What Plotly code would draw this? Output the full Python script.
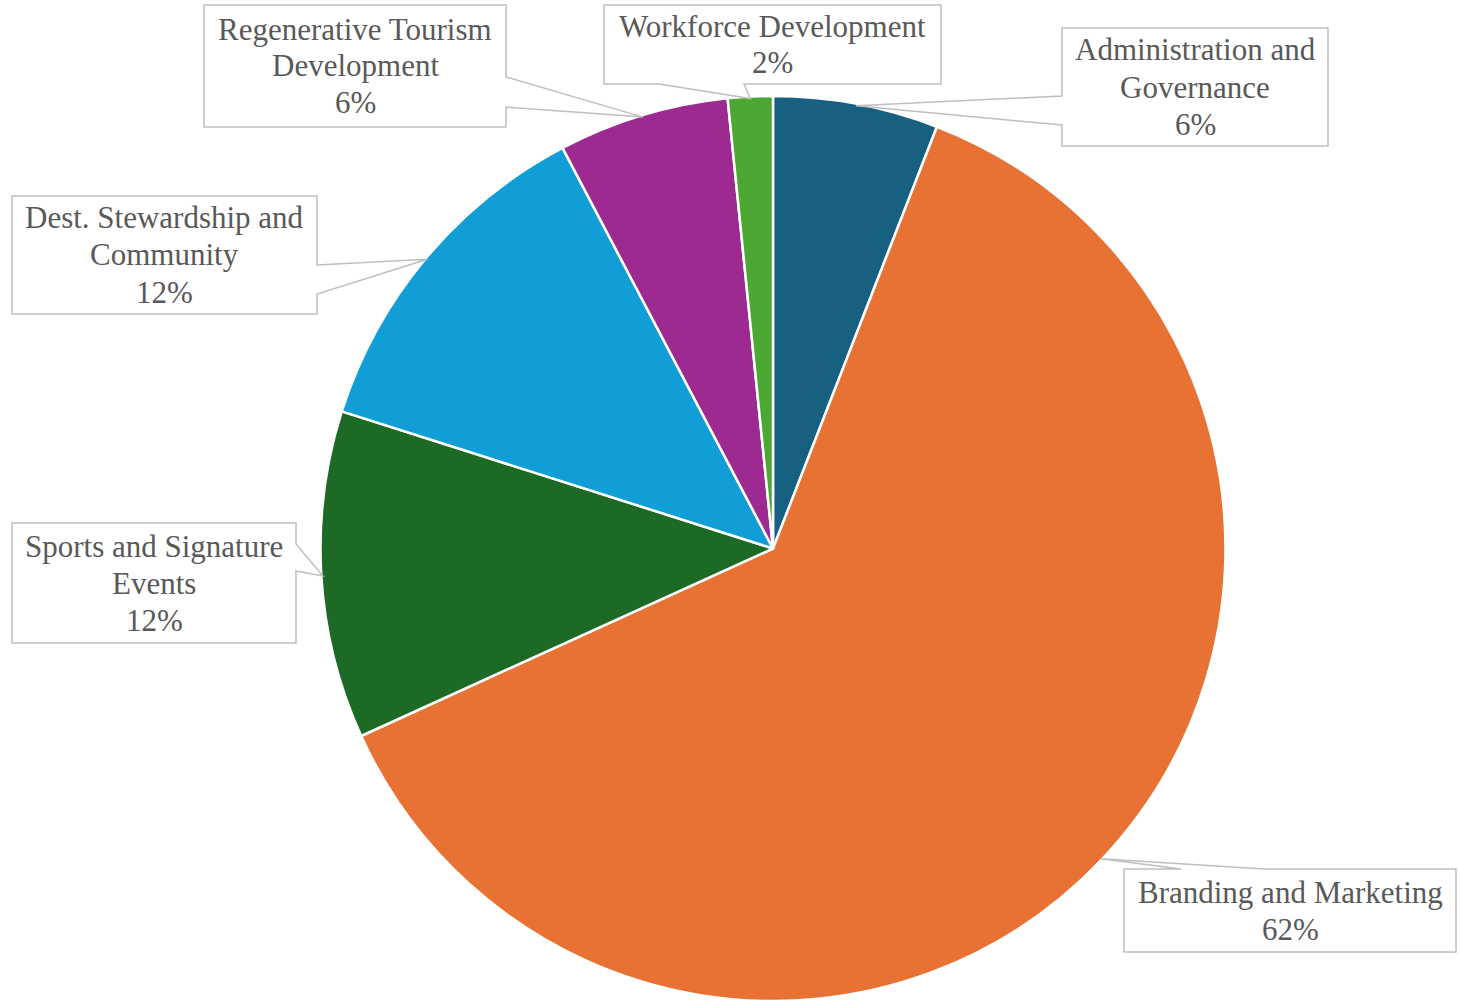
import math
import plotly.graph_objects as go

# ---- data ----
labels = [
    "Administration and Governance",
    "Branding and Marketing",
    "Sports and Signature Events",
    "Dest. Stewardship and Community",
    "Regenerative Tourism Development",
    "Workforce Development",
]
values = [5.9, 62.3, 11.7, 12.4, 6.1, 1.6]
colors = ["#17607F", "#E87234", "#1C6A25", "#119DD6", "#9C2A90", "#4DA833"]

# ---- layout (pixels) ----
W, H = 1460, 1001
CX, CY, R = 773, 549, 451
DOMAIN_PAD = 2
LINE_H = 37
FONT = "Liberation Serif, Times New Roman, serif"
TEXT_COLOR = "#595959"
BORDER = "#BFBFBF"

# words on first line, callout box (x0,y0,x1,y1), side of wedge, wedge base along side
callouts = [
    dict(first=2, box=(1062, 28, 1328, 146), side="left", base=(96, 125)),
    dict(first=3, box=(1124, 869, 1456, 952), side="top", base=(1181, 1264)),
    dict(first=3, box=(12, 523, 296, 643), side="right", base=(544, 571)),
    dict(first=3, box=(12, 196, 317, 314), side="right", base=(265, 294)),
    dict(first=2, box=(204, 5, 506, 127), side="right", base=(77, 107)),
    dict(first=2, box=(604, 5, 941, 84), side="bottom", base=(659, 744)),
]


def px(x):
    return x / W


def py(y):
    return 1 - y / H


RD = R + DOMAIN_PAD
fig = go.Figure(
    go.Pie(
        labels=labels,
        values=values,
        marker=dict(colors=colors, line=dict(color="white", width=2.5)),
        sort=False,
        direction="clockwise",
        rotation=0,
        textinfo="none",
        hoverinfo="label+percent",
        showlegend=False,
        domain=dict(x=[px(CX - RD), px(CX + RD)], y=[max(0, py(CY + RD)), py(CY - RD)]),
    )
)

total = sum(values)
cum = 0.0
shapes = []
annotations = []
for lab, val, co in zip(labels, values, callouts):
    mid = (cum + val / 2) / total * 2 * math.pi
    cum += val
    tx, ty = CX + R * math.sin(mid), CY - R * math.cos(mid)
    x0, y0, x1, y1 = co["box"]
    a, b = co["base"]
    tl, tr, br, bl = (x0, y0), (x1, y0), (x1, y1), (x0, y1)
    tip = (tx, ty)
    s = co["side"]
    if s == "top":
        pts = [tl, (a, y0), tip, (b, y0), tr, br, bl]
    elif s == "right":
        pts = [tl, tr, (x1, a), tip, (x1, b), br, bl]
    elif s == "bottom":
        pts = [tl, tr, br, (b, y1), tip, (a, y1), bl]
    else:
        pts = [tl, tr, br, bl, (x0, b), tip, (x0, a)]
    path = "M " + " L ".join(f"{px(x):.5f},{py(y):.5f}" for x, y in pts) + " Z"
    shapes.append(dict(type="path", path=path, xref="paper", yref="paper",
                       line=dict(color=BORDER, width=1.5), fillcolor="white"))

    words = lab.split(" ")
    lines = [" ".join(words[:co["first"]])]
    if co["first"] < len(words):
        lines.append(" ".join(words[co["first"]:]))
    lines.append(f"{round(val / total * 100)}%")
    n = len(lines)
    bcx, bcy = (x0 + x1) / 2, (y0 + y1) / 2
    for i, t in enumerate(lines):
        ly = bcy + (i - (n - 1) / 2) * LINE_H
        annotations.append(dict(x=px(bcx), y=py(ly), xref="paper", yref="paper",
                                text=t, showarrow=False, xanchor="center", yanchor="middle",
                                font=dict(family=FONT, size=31, color=TEXT_COLOR)))

fig.update_layout(
    width=W, height=H,
    margin=dict(l=0, r=0, t=0, b=0),
    paper_bgcolor="white", plot_bgcolor="white",
    shapes=shapes, annotations=annotations,
)

fig.write_html("out.html", config={"displayModeBar": False},
               post_script="document.body.style.margin='0';document.body.style.overflow='hidden';")
